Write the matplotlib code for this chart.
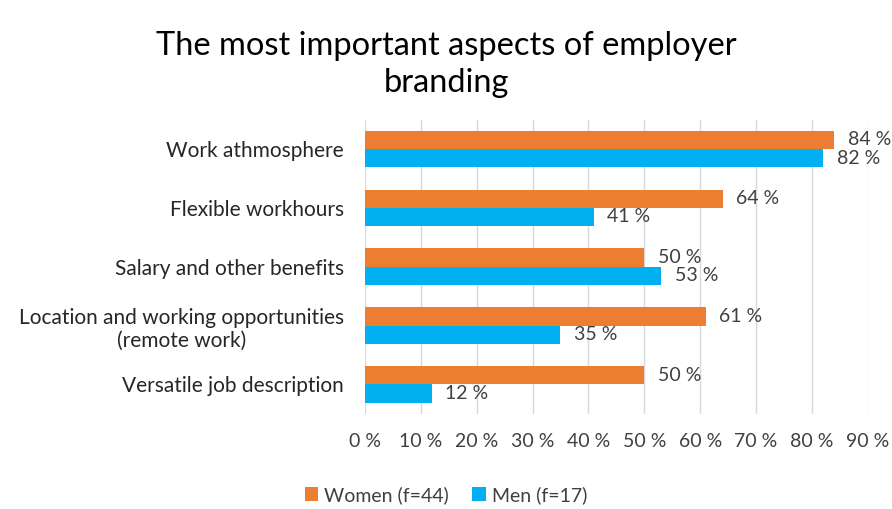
import numpy as np
import matplotlib.pyplot as plt
from matplotlib.ticker import FuncFormatter

plt.rcParams['font.family'] = ['Lato', 'DejaVu Sans']

categories = ["Work athmosphere", "Flexible workhours", "Salary and other benefits",
              "Location and working opportunities\n(remote work)", "Versatile job description"]
women = [84, 64, 50, 61, 50]
men = [82, 41, 53, 35, 12]

c_women = "#ED7D31"
c_men = "#00B0F0"

fig = plt.figure(figsize=(8.92, 5.09), dpi=100)
ax = fig.add_axes([0.409, 0.187, 0.564, 0.578])

y = np.arange(len(categories))
h = 0.31
ax.barh(y - h / 2, women, height=h, color=c_women, label="Women (f=44)", zorder=3)
ax.barh(y + h / 2, men, height=h, color=c_men, label="Men (f=17)", zorder=3)

# value labels next to each bar
for yi, v in zip(y, women):
    ax.text(v + 2.4, yi - h / 2, f"{v} %", va="center", ha="left", fontsize=14, color="#404040")
for yi, v in zip(y, men):
    ax.text(v + 2.4, yi + h / 2, f"{v} %", va="center", ha="left", fontsize=14, color="#404040")

ax.set_xlim(0, 90)
ax.set_ylim(len(categories) - 0.5, -0.5)
ax.set_xticks(np.arange(0, 91, 10))
ax.xaxis.set_major_formatter(FuncFormatter(lambda v, p: f"{int(v)} %"))
ax.set_yticks(y)
ax.set_yticklabels(categories, fontsize=15, color="#262626")
for lbl in ax.get_yticklabels():
    lbl.set_multialignment("center")
ax.tick_params(axis="y", length=0, pad=15)
ax.tick_params(axis="x", length=0, pad=14, labelsize=14, labelcolor="#404040")
ax.grid(axis="x", color="#D9D9D9", linewidth=1, zorder=0)
for s in ax.spines.values():
    s.set_visible(False)

fig.suptitle("The most important aspects of employer\nbranding", fontsize=23.5,
             color="#000000", x=0.5, y=0.94, linespacing=1.3)

fig.legend(loc="center", bbox_to_anchor=(0.5, 0.028), ncol=2, frameon=False,
           fontsize=14, handlelength=0.7, handleheight=0.7, columnspacing=1.2,
           handletextpad=0.3, labelcolor="#404040")

fig.savefig("out.png", dpi=100)
